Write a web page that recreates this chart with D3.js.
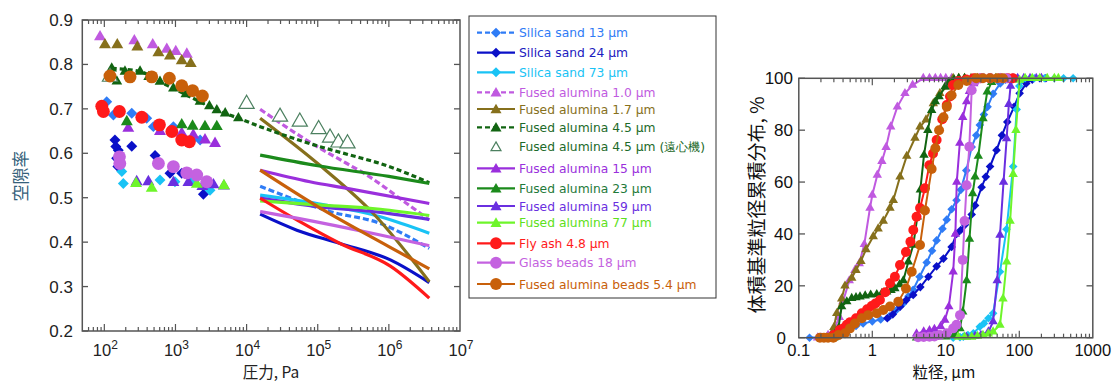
<!DOCTYPE html>
<html><head><meta charset="utf-8">
<script src="https://cdn.jsdelivr.net/npm/d3@7"></script>
<style>body{margin:0;background:#fff}</style>
</head><body>
<svg id="c" width="1115" height="383"></svg>
<script>
// ---------- DATA: left chart (pressure Pa, void fraction) ----------
const ss13Low = [[108,0.716],[134,0.686],[243,0.690],[394,0.679],[489,0.660],[935,0.660],[1780,0.634],[2220,0.630]];
const ss13High = [[15500,0.526],[148000,0.469],[760000,0.442],[3700000,0.386]];
const ss24Low = [[141,0.630],[145,0.615],[149,0.589],[157,0.607],[155,0.570],[243,0.616],[517,0.595],[837,0.555],[1225,0.555],[1790,0.536],[2470,0.508]];
const ss24High = [[15500,0.463],[50800,0.427],[206000,0.397],[1050000,0.360],[3700000,0.309]];
const ss73Low = [[176,0.559],[185,0.532],[606,0.540],[983,0.536],[1790,0.540],[3060,0.517]];
const ss73High = [[15500,0.506],[98000,0.487],[760000,0.457],[3700000,0.420]];
const fa10Low = [[87,0.862],[264,0.853],[479,0.844],[755,0.834],[1010,0.829],[1443,0.823]];
const fa10High = [[15500,0.699],[98000,0.615],[257000,0.577],[490000,0.551],[1780000,0.487],[3700000,0.450]];
const fa17Low = [[102,0.844],[152,0.844],[291,0.839],[576,0.826],[837,0.819],[1225,0.808],[1640,0.802]];
const fa17High = [[15500,0.679],[107000,0.573],[600000,0.465],[3700000,0.311]];
const fa45Low = [[127,0.791],[150,0.762],[195,0.784],[318,0.784],[420,0.772],[606,0.761],[935,0.746],[1400,0.733],[2210,0.716],[3000,0.706],[3812,0.697],[5000,0.690],[7670,0.679]];
const fa45High = [[127,0.791],[318,0.784],[606,0.761],[935,0.746],[2210,0.716],[3812,0.697],[7670,0.679],[15500,0.660],[107000,0.615],[285000,0.596],[754000,0.577],[3700000,0.534]];
const fa45cPts = [[120,0.772],[10000,0.711],[29500,0.682],[56000,0.671],[103000,0.654],[149000,0.635],[195000,0.624],[262000,0.622]];
const fa15Low = [[217,0.656],[606,0.649],[1225,0.645],[1780,0.641],[2600,0.630],[3600,0.622]];
const fa15High = [[15500,0.562],[77600,0.536],[257000,0.521],[3700000,0.487]];
const fa23Low = [[207,0.671],[1225,0.664],[1740,0.661],[2600,0.660],[3810,0.660]];
const fa23High = [[15500,0.596],[100000,0.572],[1000000,0.548],[3700000,0.532]];
const fa59Low = [[285,0.536],[416,0.536],[935,0.534],[1520,0.534],[2390,0.525],[3420,0.529],[4800,0.526]];
const fa59High = [[15500,0.499],[98000,0.480],[760000,0.467],[3700000,0.451]];
const fa77Low = [[279,0.532],[464,0.521],[2000,0.530],[4800,0.527]];
const fa77High = [[15500,0.493],[98000,0.484],[760000,0.474],[3700000,0.460]];
const flyLow = [[92,0.706],[97,0.694],[163,0.694],[336,0.681],[595,0.664],[889,0.649],[1225,0.630],[1570,0.626]];
const flyHigh = [[15500,0.499],[50800,0.450],[206000,0.397],[1050000,0.346],[3700000,0.274]];
const glassLow = [[163,0.592],[165,0.577],[576,0.577],[935,0.570],[1440,0.556],[1990,0.551],[2750,0.536]];
const glassHigh = [[15500,0.469],[50800,0.454],[760000,0.416],[3700000,0.392]];
const fabLow = [[120,0.774],[230,0.772],[464,0.772],[820,0.769],[1225,0.752],[1740,0.741],[2390,0.729]];
const fabHigh = [[15500,0.562],[100000,0.480],[1000000,0.390],[3700000,0.340]];

// ---------- DATA: right chart (particle size µm, cumulative %) ----------
const psdSS13 = [[0.14,0],[0.3,0.5],[0.36,3],[0.5,3.5],[0.6,4.5],[0.75,5.5],[1.0,6.3],[1.3,7],[1.7,8.2],[2.1,10.5],[2.6,13],[3.1,16],[3.6,18.5],[4.4,23.5],[5.5,29],[6.5,33.5],[7.5,37.5],[9,42],[10.3,45.5],[12,49.5],[14,53],[16,57],[19,64.5],[22.5,73.5],[26,78],[29,82],[33,86],[37,89],[44,94],[55,98],[65,99.5],[75,100],[90,100]];
const psdSS24 = [[1.6,7.5],[1.9,9],[2.4,12],[2.9,14.5],[3.6,16.5],[4.5,19.5],[5.8,23.5],[7.5,27.5],[9.3,30.5],[12,35],[14,40],[16,41.5],[18.2,43.5],[22.5,47.5],[25,51],[30.7,58],[35,62],[40,66],[49,72.3],[58,78],[68.6,83.2],[85,89],[101,94.2],[124,98],[150,99.5],[190,100],[230,100]];
const psdSS73 = [[12.6,0],[15.6,0.2],[17.3,0.4],[20,1],[23.7,1.7],[29,4.2],[33,5.5],[38,7.5],[44,9.4],[54.6,25.4],[67,41.8],[82.5,66],[92,88],[100,97],[120,100],[160,100],[220,100],[300,100],[400,100],[540,100]];
const psdFA10 = [[0.18,0],[0.2,0],[0.25,1],[0.3,3],[0.356,7.9],[0.4,14],[0.486,22],[0.58,26],[0.665,28.6],[0.778,36],[0.93,50],[1.0,55],[1.17,62.7],[1.35,68],[1.54,73.4],[1.78,81.3],[2.19,89],[2.78,94.2],[3.54,97.4],[4.94,100],[6,100],[7.2,100],[8.5,100],[10,100],[12,100]];
const psdFA17 = [[0.24,0],[0.3,4],[0.328,9.4],[0.383,15],[0.425,20],[0.525,23],[0.6,26],[0.7,29.5],[0.82,34],[1.03,39],[1.2,42],[1.41,45],[1.74,50],[1.93,53],[2.38,62],[2.94,70],[3.81,77],[4.46,81.3],[5.38,84],[6.76,90.3],[8.3,94.2],[10.3,96.7],[12.6,100],[15,100],[18,100],[22,100],[27,100]];
const psdFA45 = [[0.3,0],[0.345,3.6],[0.383,12],[0.45,13.9],[0.525,15.2],[0.6,15.5],[0.68,15.8],[0.8,16.2],[0.95,16.5],[1.15,16.7],[1.35,17.2],[1.57,17.7],[1.8,18.3],[2.03,19],[2.35,20.5],[2.64,22],[3.09,29.3],[3.61,35.7],[4.1,46.6],[4.5,57],[5.05,70.4],[5.7,80],[6.42,87.7],[7.2,91],[8.1,93],[9.75,96.7],[11,98.5],[13,99.5],[15,100],[18,100]];
const psdFA15 = [[4,1.5],[5,2.3],[6,2.8],[7,3.3],[8.5,4.3],[9.7,6.8],[11,12],[12.6,25.4],[13.5,40],[14.1,60],[15.5,75],[17,85],[19.2,91],[21,95],[24,98],[28,99.5],[33,100],[40,100]];
const psdFA23 = [[4,0],[5,0.1],[7,0.2],[10,0.4],[13,1],[15.6,3.5],[17,10],[19.2,22],[21,38],[23.2,55.6],[25,62],[27.7,70],[32.1,84.5],[36.6,94.8],[42,98.5],[48,100],[55,100]];
const psdFA59 = [[19,0.3],[25,0.6],[30,1],[38,2.3],[44,6.2],[50,22],[54.6,39.6],[61,60],[67.3,76.8],[72,90],[76,97],[82,100],[95,100],[115,100],[140,100],[170,100],[200,100]];
const psdFA77 = [[14.8,0.3],[18,0.3],[22.5,0.3],[27,0.6],[32,1],[38,1.5],[44,2.3],[54.6,4.9],[60,15],[67.4,29.3],[75,45],[82.5,63],[90,80],[101,99.3],[120,100],[150,100],[190,100],[240,100],[300,100],[340,100]];
const psdFly = [[0.3,1],[0.36,3],[0.4,3.6],[0.45,5],[0.5,6],[0.6,7.5],[0.72,9.4],[0.85,11],[0.98,12.2],[1.1,13.2],[1.27,14.5],[1.5,17.5],[1.74,21],[2.03,23.5],[2.38,28],[2.87,33],[3.3,37],[3.61,41.5],[4,46.6],[4.46,50],[5.2,57.6],[5.97,66.5],[6.7,71],[7.5,76.2],[8.95,84.2],[10.3,89.7],[11.4,93],[12.5,97.4],[15,99],[19,99.5],[24,100],[30,100],[40,100],[55,100],[70,100],[82,100]];
const psdGlass = [[4.2,0.2],[5,0.3],[6,0.4],[7,0.5],[8.3,1],[10.3,1.7],[12.6,3.6],[14,5],[15.6,8.7],[17,30],[18,45],[19.2,58.8],[20.9,73.6],[22.5,95.4],[25,99],[30,100],[40,100],[55,100],[67,100]];
const psdFAB = [[0.194,0],[0.22,0],[0.25,0],[0.295,0],[0.345,1],[0.425,1.7],[0.497,3.6],[0.58,5.5],[0.72,7.5],[0.88,8.7],[1.15,9.4],[1.41,10.7],[1.74,12],[2.26,13.9],[2.87,19],[3.44,25.4],[4.46,35.7],[5.2,49],[6.42,65],[7.2,73],[8.1,80],[9.3,85],[10.3,89],[12,93.5],[14.8,97.4],[19.3,99],[26,100],[32,100],[40,100],[50,100],[60,100]];

const legendLabels = ["Silica sand 13 μm","Silica sand 24 μm","Silica sand 73 μm","Fused alumina 1.0 μm","Fused alumina 1.7 μm","Fused alumina 4.5 μm","Fused alumina 4.5 μm (遠心機)","Fused alumina 15 μm","Fused alumina 23 μm","Fused alumina 59 μm","Fused alumina 77 μm","Fly ash 4.8 μm","Glass beads 18 μm","Fused alumina beads 5.4 μm"];
const yTicksL = [0.2,0.3,0.4,0.5,0.6,0.7,0.8,0.9];
const xTicksL = [2,3,4,5,6,7];           // exponents of 10
const yTicksR = [0,20,40,60,80,100];
const xTicksR = ["0.1","1","10","100","1000"];

// ---------- STYLE ----------
const S = [
 {c:"#2f7cf6", t:"#2f7cf6", m:"diamond", dash:"6,3", low:ss13Low, high:ss13High, psd:psdSS13},
 {c:"#0a10c8", t:"#1a20c0", m:"diamond", dash:null, low:ss24Low, high:ss24High, psd:psdSS24},
 {c:"#19c3f5", t:"#19c3f5", m:"diamond", dash:null, low:ss73Low, high:ss73High, psd:psdSS73},
 {c:"#c05ae0", t:"#c05ae0", m:"triangle", dash:"6,3", low:fa10Low, high:fa10High, psd:psdFA10},
 {c:"#86701c", t:"#86701c", m:"triangle", dash:null, low:fa17Low, high:fa17High, psd:psdFA17},
 {c:"#116411", t:"#1d6a2a", m:"triangle", dash:"5,3", low:fa45Low, high:fa45High, psd:psdFA45, small:true},
 {c:"#4c8060", t:"#1d6a2a", m:"open", dash:null, low:fa45cPts, high:null, psd:null},
 {c:"#9a2fdc", t:"#9a2fdc", m:"triangle", dash:null, low:fa15Low, high:fa15High, psd:psdFA15},
 {c:"#1b8a1b", t:"#1f7a3a", m:"triangle", dash:null, low:fa23Low, high:fa23High, psd:psdFA23},
 {c:"#6a2fe0", t:"#6a2fe0", m:"triangle", dash:null, low:fa59Low, high:fa59High, psd:psdFA59},
 {c:"#6ef52a", t:"#5ee020", m:"triangle", dash:null, low:fa77Low, high:fa77High, psd:psdFA77},
 {c:"#ff1a1a", t:"#ff1a1a", m:"circle", dash:null, low:flyLow, high:flyHigh, psd:psdFly},
 {c:"#c462e0", t:"#c462e0", m:"circle", dash:null, low:glassLow, high:glassHigh, psd:psdGlass},
 {c:"#c8600a", t:"#c8600a", m:"circle", dash:null, low:fabLow, high:fabHigh, psd:psdFAB}
];

const svg = d3.select("#c");
const AX = "#555";
const FONT = "'Liberation Sans', Arial, sans-serif";
const CJK = "'Noto Sans CJK JP', sans-serif";

function markerPath(m, scale){
  if(m==="diamond") return d3.symbol().type(d3.symbolSquare).size(60*scale)();
  if(m==="circle") return d3.symbol().type(d3.symbolCircle).size(130*scale)();
  return d3.symbol().type(d3.symbolTriangle).size(62*scale)();
}
function drawMarker(g, m, x, y, color, scale){
  const p = g.append("path").attr("d", markerPath(m==="open"?"triangle":m, scale))
    .attr("transform", `translate(${x},${y})` + (m==="diamond"?" rotate(45)":""));
  if(m==="open") p.attr("fill","#fff").attr("stroke",color).attr("stroke-width",1.2);
  else p.attr("fill",color);
}

// ---------- LEFT CHART ----------
const xL = d3.scaleLog().domain([49, 1e7]).range([82.3, 460]);
const yL = d3.scaleLinear().domain([0.2, 0.9]).range([331, 20]);
const gL = svg.append("g");

const lineL = d3.line().x(d=>xL(d[0])).y(d=>yL(d[1])).curve(d3.curveMonotoneX);
S.forEach(s=>{
  if(!s.high) return;
  gL.append("path").attr("d", lineL(s.high)).attr("fill","none")
    .attr("stroke", s.c).attr("stroke-width", 3.2)
    .attr("stroke-dasharray", s.dash);
});
S.forEach(s=>{
  if(!s.low) return;
  s.low.forEach(d=> drawMarker(gL, s.m, xL(d[0]), yL(d[1]), s.c, s.small?0.8:(s.m==="open"?1.6:1)));
});

gL.append("rect").attr("x",82.3).attr("y",20).attr("width",460-82.3).attr("height",311)
  .attr("fill","none").attr("stroke",AX).attr("stroke-width",1.5);
yTicksL.forEach(v=>{
  const y=yL(v);
  gL.append("line").attr("x1",82.3).attr("x2",88).attr("y1",y).attr("y2",y).attr("stroke",AX).attr("stroke-width",1.3);
  gL.append("line").attr("x1",454).attr("x2",460).attr("y1",y).attr("y2",y).attr("stroke",AX).attr("stroke-width",1.3);
  gL.append("text").attr("x",73).attr("y",y+6).attr("text-anchor","end")
    .attr("font-family",FONT).attr("font-size",17).attr("fill","#222").text(v.toFixed(1));
});
xL.ticks().forEach(t=>{
  const x=xL(t); if(x<83||x>459.5) return;
  const major = Math.abs(Math.log10(t)-Math.round(Math.log10(t)))<1e-9;
  const len = major?7:4;
  gL.append("line").attr("x1",x).attr("x2",x).attr("y1",331).attr("y2",331-len).attr("stroke",AX).attr("stroke-width",1.2);
  gL.append("line").attr("x1",x).attr("x2",x).attr("y1",20).attr("y2",20+len).attr("stroke",AX).attr("stroke-width",1.2);
});
xTicksL.forEach(e=>{
  const t = gL.append("text").attr("x",xL(Math.pow(10,e))+1).attr("y",356).attr("text-anchor","middle")
    .attr("font-family",FONT).attr("font-size",16.5).attr("fill","#222");
  t.append("tspan").text("10");
  t.append("tspan").attr("dy",-7).attr("font-size",12).text(String(e));
});
gL.append("text").attr("x",271).attr("y",378).attr("text-anchor","middle")
  .attr("font-family",CJK).attr("font-size",15.5).attr("fill","#222").text("圧力, Pa");
gL.append("text").attr("transform","translate(27,176) rotate(-90)").attr("text-anchor","middle")
  .attr("font-family",CJK).attr("font-size",17).attr("fill","#34607a").text("空隙率");

// ---------- LEGEND ----------
const gLeg = svg.append("g");
gLeg.append("rect").attr("x",469).attr("y",16).attr("width",247).attr("height",282)
  .attr("fill","#fff").attr("stroke","#333").attr("stroke-width",1);
const legY = [32.7,52.7,72.3,92.3,109,127.3,146.7,168.3,188.3,206,222.7,243.3,262.7,284];
S.forEach((s,i)=>{
  const y = legY[i];
  if(s.m!=="open"){
    gLeg.append("line").attr("x1",477).attr("x2",515).attr("y1",y).attr("y2",y)
      .attr("stroke",s.c).attr("stroke-width",2.2).attr("stroke-dasharray",s.dash?"5,3":null);
  }
  drawMarker(gLeg, s.m, 496, y+(s.m==="triangle"||s.m==="open"?1:0), s.c, s.m==="open"?0.7:0.85);
  gLeg.append("text").attr("x",519).attr("y",y+4.5)
    .attr("font-family","'DejaVu Sans', Verdana, sans-serif").attr("font-size",12.3).attr("fill",s.t).text(legendLabels[i]);
});

// ---------- RIGHT CHART ----------
const xR = d3.scaleLog().domain([0.1, 1000]).range([798.8, 1092.8]);
const yR = d3.scaleLinear().domain([0, 100]).range([337.7, 78.3]);
const gR = svg.append("g");
const lineR = d3.line().x(d=>xR(d[0])).y(d=>yR(d[1]));
S.forEach(s=>{
  if(!s.psd) return;
  gR.append("path").attr("d", lineR(s.psd)).attr("fill","none").attr("stroke",s.c).attr("stroke-width",2);
  s.psd.forEach(d=> drawMarker(gR, s.m, xR(d[0]), yR(d[1]), s.c, s.m==="circle"?0.6:0.62));
});
gR.append("rect").attr("x",798.8).attr("y",78.3).attr("width",1092.8-798.8).attr("height",337.7-78.3)
  .attr("fill","none").attr("stroke",AX).attr("stroke-width",1.5);
yTicksR.forEach(v=>{
  const y=yR(v);
  gR.append("line").attr("x1",798.8).attr("x2",805).attr("y1",y).attr("y2",y).attr("stroke",AX).attr("stroke-width",1.3);
  gR.append("line").attr("x1",1086.5).attr("x2",1092.8).attr("y1",y).attr("y2",y).attr("stroke",AX).attr("stroke-width",1.3);
  gR.append("text").attr("x",v===0?786:793).attr("y",y+6).attr("text-anchor","end")
    .attr("font-family",FONT).attr("font-size",17).attr("fill","#111").text(v);
});
xR.ticks().forEach(t=>{
  const x=xR(t); if(x<799.5||x>1092) return;
  const major = Math.abs(Math.log10(t)-Math.round(Math.log10(t)))<1e-9;
  const len = major?7:4;
  gR.append("line").attr("x1",x).attr("x2",x).attr("y1",337.7).attr("y2",337.7-len).attr("stroke",AX).attr("stroke-width",1.2);
  gR.append("line").attr("x1",x).attr("x2",x).attr("y1",78.3).attr("y2",78.3+len).attr("stroke",AX).attr("stroke-width",1.2);
});
xTicksR.forEach(l=>{
  gR.append("text").attr("x",xR(+l)).attr("y",356).attr("text-anchor","middle")
    .attr("font-family",FONT).attr("font-size",16.5).attr("fill","#111").text(l);
});
gR.append("text").attr("x",944).attr("y",378).attr("text-anchor","middle")
  .attr("font-family",CJK).attr("font-size",15.5).attr("fill","#111").text("粒径, μm");
gR.append("text").attr("transform","translate(764,205) rotate(-90)").attr("text-anchor","middle")
  .attr("font-family",CJK).attr("font-size",19).attr("fill","#111").text("体積基準粒径累積分布, %");
</script></body></html>
